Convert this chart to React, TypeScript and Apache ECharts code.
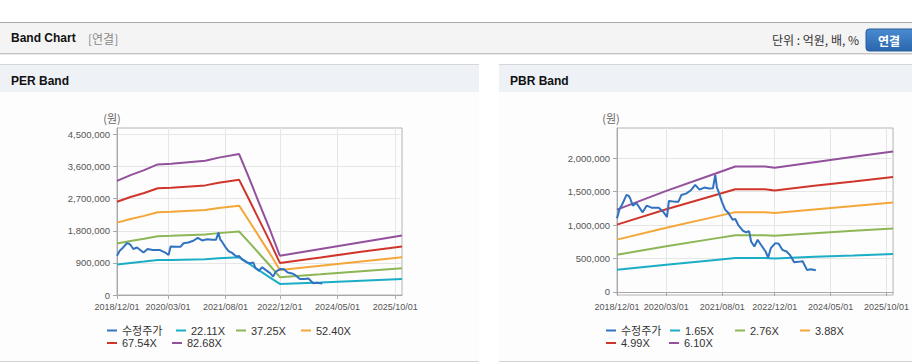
import React, { useEffect, useRef } from "react";
import * as echarts from "echarts";

// ---- data ----
const xLabelMonths = [0, 15, 32, 48, 65, 82]; // month index from 2018/12
const xLabelTexts = ["2018/12/01", "2020/03/01", "2021/08/01", "2022/12/01", "2024/05/01", "2025/10/01"];
const perTicks = [0, 900000, 1800000, 2700000, 3600000, 4500000];
const pbrTicks = [0, 500000, 1000000, 1500000, 2000000];

const priceMonths = [0, 0.8, 1.5, 2.9, 3.5, 4.0, 4.8, 5.9, 7.8, 9.0, 10.5, 12.7, 14.2, 15.2, 15.8, 17.5, 18.7, 19.6, 21.0, 22.5, 23.8, 25.1, 26.6, 28.0, 29.2, 29.9, 30.4, 30.9, 31.9, 32.9, 33.9, 35.2, 36.0, 36.9, 38.3, 39.3, 40.2, 40.8, 41.8, 42.8, 43.8, 45.2, 46.0, 46.8, 48.2, 49.2, 50.3, 51.6, 52.6, 53.9, 55.2, 56.5, 57.8, 59.0, 60.5];
const priceValues = [1100000, 1240000, 1300000, 1450000, 1440000, 1400000, 1290000, 1330000, 1190000, 1290000, 1260000, 1260000, 1190000, 1120000, 1360000, 1350000, 1350000, 1450000, 1470000, 1520000, 1600000, 1530000, 1560000, 1545000, 1550000, 1750000, 1560000, 1500000, 1350000, 1230000, 1180000, 1080000, 1090000, 1000000, 915000, 890000, 910000, 755000, 680000, 780000, 705000, 605000, 515000, 655000, 730000, 720000, 630000, 605000, 555000, 445000, 450000, 460000, 330000, 340000, 325000];

const perMonths = [0, 4, 8, 12, 16, 26, 30, 36, 39, 42, 45, 48, 60, 72, 84];
const per2211 = [856000, 898000, 936000, 979000, 984000, 1005000, 1029000, 1056000, 872000, 682000, 495000, 310000, 350000, 398000, 445000];
const per3725 = [1442000, 1514000, 1577000, 1649000, 1658000, 1694000, 1734000, 1779000, 1469000, 1149000, 833000, 500000, 581000, 667000, 750000];
const per5240 = [2028000, 2130000, 2218000, 2320000, 2332000, 2383000, 2440000, 2504000, 2066000, 1616000, 1173000, 700000, 818000, 938000, 1055000];
const per6754 = [2614000, 2745000, 2859000, 2990000, 3006000, 3072000, 3145000, 3227000, 2663000, 2083000, 1511000, 900000, 1054000, 1209000, 1360000];
const per8268 = [3200000, 3360000, 3500000, 3660000, 3680000, 3760000, 3850000, 3950000, 3260000, 2550000, 1850000, 1100000, 1290000, 1480000, 1665000];

const pbrMonths = [0, 15, 30, 36, 45, 48, 60, 72, 84];
const pbr165 = [333000, 408000, 479000, 507000, 507000, 502000, 525000, 546000, 568000];
const pbr276 = [557000, 683000, 801000, 848000, 848000, 839000, 878000, 914000, 950000];
const pbr388 = [782000, 960000, 1126000, 1193000, 1193000, 1180000, 1234000, 1285000, 1336000];
const pbr499 = [1006000, 1235000, 1448000, 1534000, 1534000, 1517000, 1587000, 1652000, 1718000];
const pbr610 = [1230000, 1510000, 1770000, 1875000, 1875000, 1855000, 1940000, 2020000, 2100000];

const perNames = ["22.11X", "37.25X", "52.40X", "67.54X", "82.68X"];
const pbrNames = ["1.65X", "2.76X", "3.88X", "4.99X", "6.10X"];
const priceName = "수정주가";

// ---- styles ----
const FONT = "'Liberation Sans', 'Noto Sans CJK KR', sans-serif";
const KFONT = "'Noto Sans CJK KR', 'Liberation Sans', sans-serif";
const colors = ["#3172c1", "#1badc6", "#8db656", "#f4a739", "#d0352c", "#93509c"];

const pairs = (xs: number[], ys: number[]) => xs.map((x, i) => [x, ys[i]]);

function xAxisFor(gridIndex: number) {
  return {
    type: "value",
    gridIndex,
    min: 0,
    max: 84,
    axisLine: { show: true, lineStyle: { color: "#a8a8a8", width: 1 } },
    axisTick: { show: true, customValues: xLabelMonths, length: 4, lineStyle: { color: "#a8a8a8" } },
    axisLabel: {
      customValues: xLabelMonths,
      formatter: (v: number) => {
        const i = xLabelMonths.indexOf(v);
        return i >= 0 ? xLabelTexts[i] : "";
      },
      fontSize: 9,
      color: "#555",
      fontFamily: FONT,
      margin: 7,
    },
    splitLine: { show: true, lineStyle: { color: "#e6e6e6", width: 1 } },
  };
}

function yAxisFor(gridIndex: number, min: number, max: number, ticks: number[]) {
  return {
    type: "value",
    gridIndex,
    min,
    max,
    axisLine: { show: true, lineStyle: { color: "#a8a8a8", width: 1 } },
    axisTick: { show: true, customValues: ticks, length: 4, lineStyle: { color: "#a8a8a8" } },
    axisLabel: {
      customValues: ticks,
      formatter: (v: number) => v.toLocaleString("en-US"),
      fontSize: 9.5,
      color: "#555",
      fontFamily: FONT,
      margin: 7,
    },
    splitLine: { show: true, lineStyle: { color: "#e6e6e6", width: 1 } },
  };
}

function lineSeries(name: string, color: string, data: number[][], gi: number, z: number) {
  return {
    type: "line",
    name,
    xAxisIndex: gi,
    yAxisIndex: gi,
    data,
    showSymbol: false,
    symbol: "none",
    color,
    lineStyle: { color, width: 2 },
    z,
    silent: true,
  };
}

function legendItem(name: string, left: number, top: number) {
  return {
    data: [name],
    left,
    top,
    icon: "rect",
    itemWidth: 10,
    itemHeight: 2,
    padding: 0,
    selectedMode: false,
    textStyle: { fontSize: 11, color: "#333", fontFamily: FONT, lineHeight: 12 },
  };
}

function buildOption() {
  const perBands = [per2211, per3725, per5240, per6754, per8268];
  const pbrBands = [pbr165, pbr276, pbr388, pbr499, pbr610];

  const series: any[] = [];
  perBands.forEach((b, i) => series.push(lineSeries(perNames[i], colors[i + 1], pairs(perMonths, b), 0, 2)));
  series.push(lineSeries(priceName, colors[0], pairs(priceMonths, priceValues), 0, 3));
  pbrBands.forEach((b, i) => series.push(lineSeries(pbrNames[i], colors[i + 1], pairs(pbrMonths, b), 1, 2)));
  series.push(lineSeries(priceName, colors[0], pairs(priceMonths, priceValues), 1, 3));

  const row1 = 324.5;
  const row2 = 337;
  const legends = [
    legendItem(priceName, 107, row1),
    legendItem(perNames[0], 176, row1),
    legendItem(perNames[1], 236, row1),
    legendItem(perNames[2], 301, row1),
    legendItem(perNames[3], 107, row2),
    legendItem(perNames[4], 172, row2),
    legendItem(priceName, 606, row1),
    legendItem(pbrNames[0], 670, row1),
    legendItem(pbrNames[1], 735, row1),
    legendItem(pbrNames[2], 800, row1),
    legendItem(pbrNames[3], 606, row2),
    legendItem(pbrNames[4], 669, row2),
  ];

  const graphic: any[] = [];
  // header bar
  graphic.push({ type: "rect", z: -10, shape: { x: 0, y: 22, width: 912, height: 31 }, style: { fill: "#f4f4f4" } });
  graphic.push({ type: "line", z: -9, shape: { x1: 0, y1: 22.5, x2: 912, y2: 22.5 }, style: { stroke: "#ababab", lineWidth: 1 } });
  graphic.push({ type: "line", z: -9, shape: { x1: 0, y1: 53.5, x2: 912, y2: 53.5 }, style: { stroke: "#c4c4c4", lineWidth: 1 } });
  graphic.push({ type: "line", z: -9, shape: { x1: 0, y1: 54.5, x2: 912, y2: 54.5 }, style: { stroke: "#e8e8e8", lineWidth: 1 } });
  graphic.push({ type: "text", z: 5, x: 11, y: 38, style: { text: "Band Chart", font: `bold 12px ${FONT}`, fill: "#111", verticalAlign: "middle" } });
  graphic.push({ type: "text", z: 5, x: 88, y: 38, style: { text: "[연결]", font: `12px ${KFONT}`, fill: "#8a8a8a", verticalAlign: "middle" } });
  graphic.push({ type: "text", z: 5, x: 859, y: 39.5, style: { text: "단위 : 억원, 배, %", font: `12px ${KFONT}`, fill: "#333", align: "right", verticalAlign: "middle" } });
  graphic.push({
    type: "rect", z: 4, shape: { x: 866, y: 29, width: 54, height: 22, r: 3 },
    style: {
      fill: new echarts.graphic.LinearGradient(0, 0, 0, 1, [
        { offset: 0, color: "#4a8bd0" },
        { offset: 1, color: "#2a66ad" },
      ]),
      stroke: "#2a5f9f", lineWidth: 1,
    },
  });
  graphic.push({ type: "text", z: 5, x: 889, y: 40, style: { text: "연결", font: `bold 12px ${KFONT}`, fill: "#fff", align: "center", verticalAlign: "middle" } });

  // panels
  [[0, "PER Band"], [499, "PBR Band"]].forEach(([px, title]) => {
    const x = px as number;
    graphic.push({ type: "rect", z: -10, shape: { x, y: 92, width: 479, height: 270 }, style: { fill: "#fdfdfd" } });
    graphic.push({ type: "rect", z: -10, shape: { x, y: 64, width: 479, height: 28 }, style: { fill: "#eef2f7" } });
    graphic.push({ type: "line", z: -9, shape: { x1: x, y1: 64.5, x2: x + 479, y2: 64.5 }, style: { stroke: "#d6d6d6", lineWidth: 1 } });
    graphic.push({ type: "line", z: -9, shape: { x1: x, y1: 361.5, x2: x + 479, y2: 361.5 }, style: { stroke: "#d3d3d3", lineWidth: 1 } });
    graphic.push({ type: "text", z: 5, x: x + 11, y: 80.5, style: { text: title as string, font: `bold 12px ${FONT}`, fill: "#111", verticalAlign: "middle" } });
    graphic.push({ type: "text", z: 5, x: x + 112, y: 118, style: { text: "(원)", font: `11px ${KFONT}`, fill: "#666", align: "center", verticalAlign: "middle" } });
  });

  return {
    animation: false,
    backgroundColor: "#ffffff",
    textStyle: { fontFamily: FONT },
    grid: [
      { left: 117, top: 128, width: 285, height: 167, show: true, borderColor: "#b4b4b4", borderWidth: 1, backgroundColor: "transparent", containLabel: false },
      { left: 617, top: 128, width: 284.5, height: 167, show: true, borderColor: "#b4b4b4", borderWidth: 1, backgroundColor: "transparent", containLabel: false },
    ],
    xAxis: [xAxisFor(0), xAxisFor(1)],
    yAxis: [yAxisFor(0, 0, 4680000, perTicks), yAxisFor(1, -45000, 2450000, pbrTicks)],
    legend: legends,
    tooltip: { show: false },
    graphic,
    series,
  };
}

export default function App() {
  const ref = useRef<HTMLDivElement>(null);
  useEffect(() => {
    if (!ref.current) return;
    const chart = echarts.init(ref.current, undefined, { renderer: "svg" });
    chart.setOption(buildOption() as any);
    return () => chart.dispose();
  }, []);
  return (
    <div style={{ position: "fixed", left: 0, top: 0, width: 912, height: 364, overflow: "hidden", background: "#fff" }}>
      <div ref={ref} style={{ width: 912, height: 364 }} />
    </div>
  );
}
